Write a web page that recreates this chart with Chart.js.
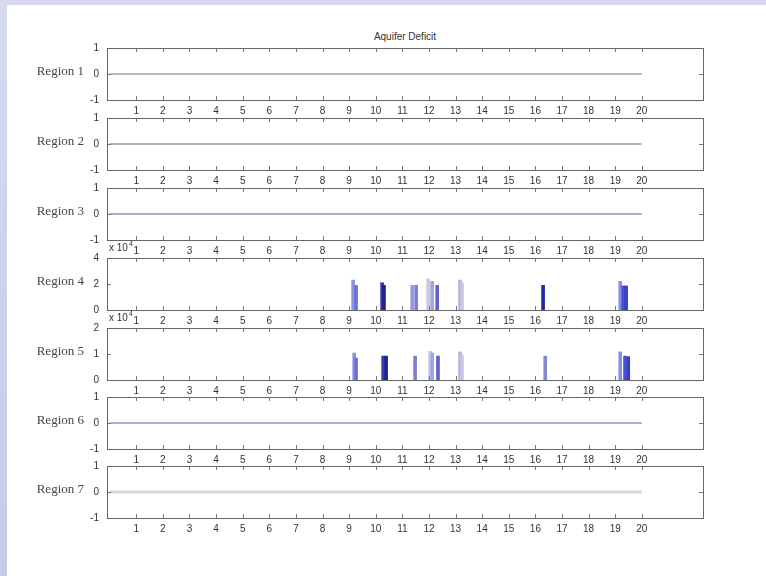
<!DOCTYPE html>
<html>
<head>
<meta charset="utf-8">
<title>Aquifer Deficit</title>
<script src="https://cdn.jsdelivr.net/npm/chart.js@4.4.1/dist/chart.umd.min.js"></script>
<style>
  html, body { margin: 0; padding: 0; }
  body { width: 766px; height: 576px; position: relative; overflow: hidden;
         background: linear-gradient(180deg, #d6d9ef 0%, #c6cae9 100%); }
  #fig { position: absolute; left: 7px; top: 5px; right: 0; bottom: 0; background: #fff; }
  canvas { position: absolute; left: 0; }
  #title { position: absolute; left: 105px; width: 600px; top: 31px; text-align: center;
           font: 10px "Liberation Sans", Arial, sans-serif; color: #333; }
</style>
</head>
<body>
<div id="fig"></div>
<div id="title">Aquifer Deficit</div>

<script>
// --- Datos ---
const xTicks = [1, 2, 3, 4, 5, 6, 7, 8, 9, 10, 11, 12, 13, 14, 15, 16, 17, 18, 19, 20];
const xCats = [0, 1, 2, 3, 4, 5, 6, 7, 8, 9, 10, 11, 12, 13, 14, 15, 16, 17, 18, 19, 20];
const zeroLine = [0, 0, 0, 0, 0, 0, 0, 0, 0, 0, 0, 0, 0, 0, 0, 0, 0, 0, 0, 0, 0];
const regionNames = ["Region 1", "Region 2", "Region 3", "Region 4", "Region 5", "Region 6", "Region 7"];

const unitTicks = [-1, 0, 1];
const region4Ticks = [0, 20000, 40000];
const region5Ticks = [0, 10000, 20000];

const region4X = [9.15, 9.26, 10.24, 10.31, 11.37, 11.52, 11.97, 12.12, 12.31, 13.17, 13.24, 16.29, 19.19, 19.30, 19.41];
const region4Deficit = [23000, 19000, 21000, 19000, 19000, 19000, 24000, 22000, 19000, 23000, 21000, 19000, 22000, 18500, 18500];

const region5X = [9.19, 9.26, 10.28, 10.39, 11.48, 12.04, 12.12, 12.34, 13.17, 13.24, 16.37, 19.19, 19.37, 19.49];
const region5Deficit = [10400, 8500, 9200, 9200, 9200, 11000, 10400, 9200, 10800, 9500, 9200, 10800, 9200, 9000];

// --- Estilos ---
const region4Colors = ["#8e92e2", "#6d71d6", "#3438b4", "#1f2392", "#9699dc", "#7b7fd6", "#c9cae2", "#a2a4dd",
                       "#5e62c9", "#b2b4da", "#c6c8e6", "#2327a8", "#8a8ee0", "#4a4fd0", "#3a3fc4"];
const region5Colors = ["#8e92e2", "#6d71d6", "#3438b4", "#1f2392", "#7b7fd6", "#c9cae2", "#a2a4dd", "#5e62c9",
                       "#b2b4da", "#c6c8e6", "#8589cc", "#8a8ee0", "#4a4fd0", "#3a3fc4"];
const lineColors = ["#a4a4a4", "#9a9a9a", "#8d90dc", null, null, "#8d90dc", "#d8d8d8"];
const lineWidths = [1.5, 1.5, 1.5, 0, 0, 1.5, 3];

const panelTops = [48, 118, 188, 258, 328, 397, 466];
const PANEL_H = 52, PAD_TOP = 18, AXIS_BOTTOM = 20, Y_W = 107, RIGHT_PAD = 63;
const tickFont = { family: "'Liberation Sans', Arial, sans-serif", size: 10 };

// dibuja la caja, ticks hacia adentro y etiquetas estilo MATLAB
const matlabAxes = {
  id: "matlabAxes",
  afterDatasetsDraw(chart, args, opts) {
    const { ctx, chartArea: a, scales } = chart;
    ctx.save();
    ctx.strokeStyle = "#777";
    ctx.lineWidth = 1;
    ctx.beginPath();
    scales.x.ticks.forEach(t => {
      const px = Math.round(scales.x.getPixelForValue(t.value)) + 0.5;
      ctx.moveTo(px, a.top); ctx.lineTo(px, a.top + 4);
      ctx.moveTo(px, a.bottom); ctx.lineTo(px, a.bottom - 4);
    });
    scales.y.ticks.forEach(t => {
      const py = Math.round(scales.y.getPixelForValue(t.value)) + 0.5;
      ctx.moveTo(a.left, py); ctx.lineTo(a.left + 4, py);
      ctx.moveTo(a.right, py); ctx.lineTo(a.right - 4, py);
    });
    ctx.stroke();
    ctx.strokeStyle = "#666";
    ctx.strokeRect(Math.round(a.left) + 0.5, Math.round(a.top) + 0.5,
                   Math.round(a.right - a.left), Math.round(a.bottom - a.top));

    // etiqueta de la región
    ctx.fillStyle = "#444";
    ctx.font = "13px 'Liberation Serif', 'Times New Roman', serif";
    ctx.textAlign = "right";
    ctx.textBaseline = "middle";
    ctx.fillText(opts.label, 84, (a.top + a.bottom) / 2 - 2);

    // factor x 10^4
    if (opts.exponent) {
      ctx.fillStyle = "#333";
      ctx.textAlign = "left";
      ctx.font = "10px 'Liberation Sans', Arial, sans-serif";
      ctx.fillText("x 10", a.left + 2, a.top - 10);
      const w = ctx.measureText("x 10").width;
      ctx.font = "7px 'Liberation Sans', Arial, sans-serif";
      ctx.fillText(opts.exponent, a.left + 3 + w, a.top - 14);
    }
    ctx.restore();
  }
};

function crearPanel(i) {
  const canvas = document.createElement("canvas");
  canvas.width = 766;
  canvas.height = PAD_TOP + PANEL_H + AXIS_BOTTOM;
  canvas.style.top = (panelTops[i] - PAD_TOP) + "px";
  document.body.appendChild(canvas);

  let dataset, yTicks, yMin, yMax, yFmt = v => String(v), exponent = null;
  if (i === 3 || i === 4) {
    const xs = i === 3 ? region4X : region5X;
    const ys = i === 3 ? region4Deficit : region5Deficit;
    dataset = {
      type: "bar",
      data: xs.map((x, j) => ({ x: x, y: ys[j] })),
      backgroundColor: i === 3 ? region4Colors : region5Colors,
      borderWidth: 0,
      barThickness: 3
    };
    yTicks = i === 3 ? region4Ticks : region5Ticks;
    yMin = yTicks[0]; yMax = yTicks[yTicks.length - 1];
    yFmt = v => String(v / 10000);
    exponent = "4";
  } else {
    dataset = {
      type: "line",
      data: xCats.map((x, j) => ({ x: x, y: zeroLine[j] })),
      borderColor: lineColors[i],
      borderWidth: lineWidths[i],
      pointRadius: 0,
      tension: 0
    };
    yTicks = unitTicks;
    yMin = -1; yMax = 1;
  }

  new Chart(canvas.getContext("2d"), {
    type: dataset.type,
    data: { datasets: [dataset] },
    options: {
      responsive: false,
      animation: false,
      devicePixelRatio: 1,
      layout: { padding: { top: PAD_TOP, right: RIGHT_PAD, bottom: 0, left: 0 } },
      plugins: {
        legend: { display: false },
        tooltip: { enabled: false },
        matlabAxes: { label: regionNames[i], exponent: exponent }
      },
      scales: {
        x: {
          type: "linear",
          offset: false,
          min: -0.1,
          max: 22.3,
          afterBuildTicks: s => { s.ticks = xTicks.map(v => ({ value: v })); },
          afterFit: s => { s.height = AXIS_BOTTOM; },
          grid: { display: false, drawTicks: false, offset: false },
          border: { display: false },
          ticks: { autoSkip: false, maxRotation: 0, padding: 5, font: tickFont, color: "#333" }
        },
        y: {
          min: yMin,
          max: yMax,
          afterBuildTicks: s => { s.ticks = yTicks.map(v => ({ value: v })); },
          afterFit: s => { s.width = Y_W; },
          grid: { display: false, drawTicks: false },
          border: { display: false },
          ticks: { padding: 8, font: tickFont, color: "#333", callback: yFmt }
        }
      }
    },
    plugins: [matlabAxes]
  });
}

for (let i = 0; i < 7; i++) crearPanel(i);
</script>
</body>
</html>
